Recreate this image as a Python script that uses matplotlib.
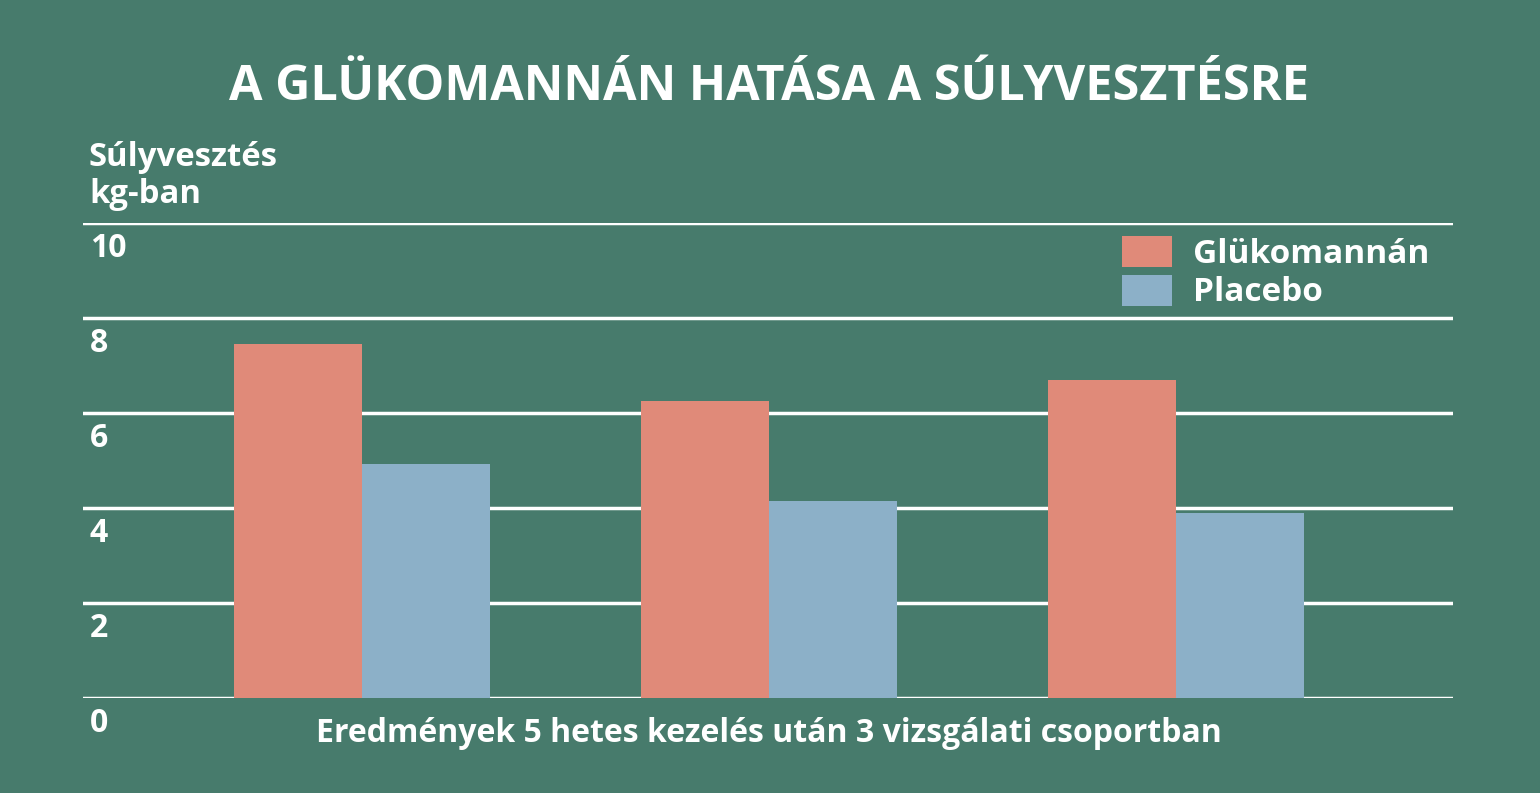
import numpy as np
import matplotlib.pyplot as plt
import matplotlib.transforms as mtransforms

plt.rcParams['font.family'] = ['Open Sans', 'DejaVu Sans']
plt.rcParams['font.weight'] = 'bold'

groups = ['1. csoport', '2. csoport', '3. csoport']
glukomannan = [7.45, 6.25, 6.69]
placebo = [4.93, 4.15, 3.89]
yticks = [0, 2, 4, 6, 8, 10]

bg = '#477b6c'
c_glu = '#e08a79'
c_pla = '#8cb0c8'

fig = plt.figure(figsize=(15.4, 7.93), dpi=100, facecolor=bg)
ax = fig.add_axes([83/1540, 95/793, 1370/1540, 475/793])
ax.set_facecolor(bg)

x = np.arange(len(groups))
w = 0.315
ax.bar(x - w/2, glukomannan, w, color=c_glu, label='Glükomannán', zorder=3)
ax.bar(x + w/2, placebo, w, color=c_pla, label='Placebo', zorder=3)

ax.set_xlim(-0.685, 2.68)
ax.set_ylim(0, 10)
for s in ax.spines.values():
    s.set_visible(False)
ax.set_xticks([])
ax.set_yticks(yticks)
ax.tick_params(left=False, labelleft=False)
ax.grid(axis='y', color='white', linewidth=2.5, zorder=1)

# tick labels below the grid lines
trans = mtransforms.blended_transform_factory(ax.transAxes, ax.transData)
for t in yticks:
    ax.annotate(str(t), xy=(0, t), xycoords=trans, xytext=(5, -24.5),
                textcoords='offset points', ha='left', va='baseline',
                color='white', fontsize=23, fontweight='bold')

# axis title, two lines above the plot
fig.text(89/1540, 1 - 166/793, 'Súlyvesztés', ha='left', va='baseline',
         color='white', fontsize=23.7, fontweight='bold')
fig.text(89/1540, 1 - 203/793, 'kg-ban', ha='left', va='baseline',
         color='white', fontsize=23.7, fontweight='bold')

fig.text(769/1540, 1 - 100/793, 'A GLÜKOMANNÁN HATÁSA A SÚLYVESZTÉSRE',
         ha='center', va='baseline', color='white', fontsize=35, fontweight='bold')
fig.text(769/1540, 1 - 742/793, 'Eredmények 5 hetes kezelés után 3 vizsgálati csoportban',
         ha='center', va='baseline', color='white', fontsize=23, fontweight='bold')

leg = ax.legend(loc='upper right', bbox_to_anchor=(0.9825, 0.973), frameon=False,
                fontsize=24, handlelength=1.5, handleheight=1.05,
                labelspacing=0.12, handletextpad=0.62, borderaxespad=0, borderpad=0)
for txt in leg.get_texts():
    txt.set_color('white')

fig.savefig('out.png', dpi=100, facecolor=bg)
